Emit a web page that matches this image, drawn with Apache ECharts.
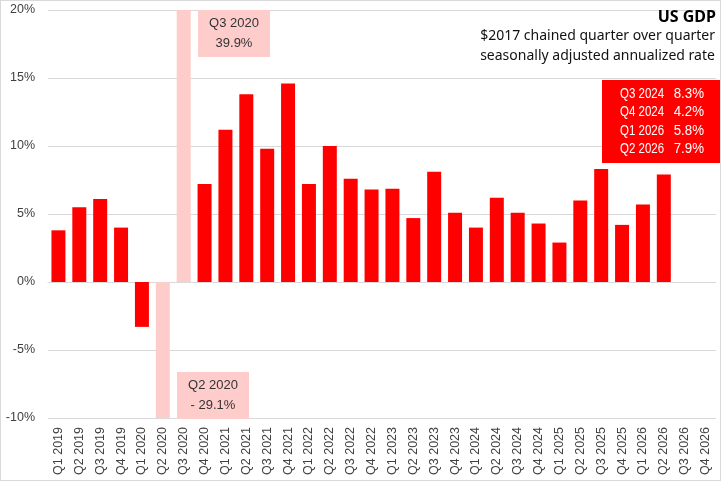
<!DOCTYPE html>
<html>
<head>
<meta charset="utf-8">
<script src="https://cdn.jsdelivr.net/npm/echarts@6/dist/echarts.min.js"></script>
<style>
  html, body { margin: 0; padding: 0; background: #fff; }
  #main { width: 721px; height: 481px; box-sizing: border-box; border: 1px solid #d9d9d9; }
</style>
</head>
<body>
<div id="main"></div>
<script>
// quarters Q1 2019 .. Q4 2026
var quarters = [
  'Q1 2019', 'Q2 2019', 'Q3 2019', 'Q4 2019',
  'Q1 2020', 'Q2 2020', 'Q3 2020', 'Q4 2020',
  'Q1 2021', 'Q2 2021', 'Q3 2021', 'Q4 2021',
  'Q1 2022', 'Q2 2022', 'Q3 2022', 'Q4 2022',
  'Q1 2023', 'Q2 2023', 'Q3 2023', 'Q4 2023',
  'Q1 2024', 'Q2 2024', 'Q3 2024', 'Q4 2024',
  'Q1 2025', 'Q2 2025', 'Q3 2025', 'Q4 2025',
  'Q1 2026', 'Q2 2026', 'Q3 2026', 'Q4 2026'
];
// annualized qoq growth, %
var gdpGrowth = [
  3.8, 5.5, 6.1, 4.0,
  -3.3, -29.1, 39.9, 7.2,
  11.2, 13.8, 9.8, 14.6,
  7.2, 10.0, 7.6, 6.8,
  6.85, 4.7, 8.1, 5.1,
  4.0, 6.2, 5.1, 4.3,
  2.9, 6.0, 8.3, 4.2,
  5.7, 7.9, null, null
];
// off-scale quarters drawn in pale red
var outliers = ['Q2 2020', 'Q3 2020'];
var yTicks = { min: -10, max: 20, step: 5 };
var latestLines = [
  ['Q3 2024', '8.3%'],
  ['Q4 2024', '4.2%'],
  ['Q1 2026', '5.8%'],
  ['Q2 2026', '7.9%']
];
var titleText = 'US GDP';
var subLines = ['$2017 chained quarter over quarter', 'seasonally adjusted annualized rate'];

var RED = '#ff0000';
var PINK = '#ffcccc';
var AXIS_FONT = '"Liberation Sans", Arial, sans-serif';

var barData = gdpGrowth.map(function(v, i) {
  if (outliers.indexOf(quarters[i]) >= 0) {
    return { value: v, itemStyle: { color: PINK } };
  }
  return v;
});

var myChart = echarts.init(document.getElementById('main'));

function annotBox(x, y, w, h, fill, lines, color) {
  return {
    type: 'group',
    left: x, top: y,
    children: [
      { type: 'rect', z: 100, shape: { x: 0, y: 0, width: w, height: h }, style: { fill: fill } },
      {
        type: 'text', z: 101, x: w / 2, y: h / 2,
        style: {
          text: lines.join('\n'), fill: color, align: 'center', verticalAlign: 'middle',
          font: '13px ' + AXIS_FONT, lineHeight: 20
        }
      }
    ]
  };
}

var latestTexts = [];
latestLines.forEach(function(l, i) {
  latestTexts.push({
    type: 'text', z: 101, x: 18, y: 14 + i * 18.5, scaleX: 0.82,
    style: { text: l[0], fill: '#fff', font: '14px ' + AXIS_FONT, verticalAlign: 'middle' }
  });
  latestTexts.push({
    type: 'text', z: 101, x: 102, y: 14 + i * 18.5, scaleX: 0.95,
    style: { text: l[1], fill: '#fff', font: '14px ' + AXIS_FONT, align: 'right', verticalAlign: 'middle' }
  });
});

var options = {
  animation: false,
  backgroundColor: '#fff',
  grid: { left: 47, right: 4, top: 9, bottom: 62, containLabel: false },
  xAxis: {
    type: 'category',
    data: quarters,
    axisTick: { show: false },
    axisLine: { show: true, lineStyle: { color: '#d9d9d9' } },
    axisLabel: {
      rotate: 90, interval: 0, color: '#404040', fontSize: 12.5,
      fontFamily: AXIS_FONT, margin: 9
    }
  },
  yAxis: {
    type: 'value',
    min: yTicks.min, max: yTicks.max, interval: yTicks.step,
    axisLine: { show: false },
    axisTick: { show: false },
    splitLine: { lineStyle: { color: '#d9d9d9', width: 1 } },
    axisLabel: {
      color: '#404040', fontSize: 12.5, fontFamily: AXIS_FONT, margin: 13,
      formatter: function(v) { return v + '%'; }
    }
  },
  series: [{
    type: 'bar',
    data: barData,
    barCategoryGap: '33%',
    itemStyle: { color: RED },
    clip: true
  }],
  graphic: [
    {
      type: 'text', right: 4, top: 8, z: 100,
      style: { text: titleText, fill: '#000', font: 'bold 16px "Noto Sans", sans-serif', align: 'right' }
    },
    {
      type: 'text', right: 5, top: 25, z: 100,
      style: {
        text: subLines.join('\n'), fill: '#111', font: '14px "Noto Sans", sans-serif',
        align: 'right', lineHeight: 20
      }
    },
    annotBox(197, 9, 72, 47, PINK, ['Q3 2020', '39.9%'], '#333'),
    annotBox(176, 371, 72, 47, PINK, ['Q2 2020', '- 29.1%'], '#333'),
    {
      type: 'group', left: 601, top: 79,
      children: [{ type: 'rect', z: 100, shape: { x: 0, y: 0, width: 119, height: 83 }, style: { fill: RED } }]
        .concat(latestTexts)
    }
  ]
};

myChart.setOption(options);
</script>
</body>
</html>
